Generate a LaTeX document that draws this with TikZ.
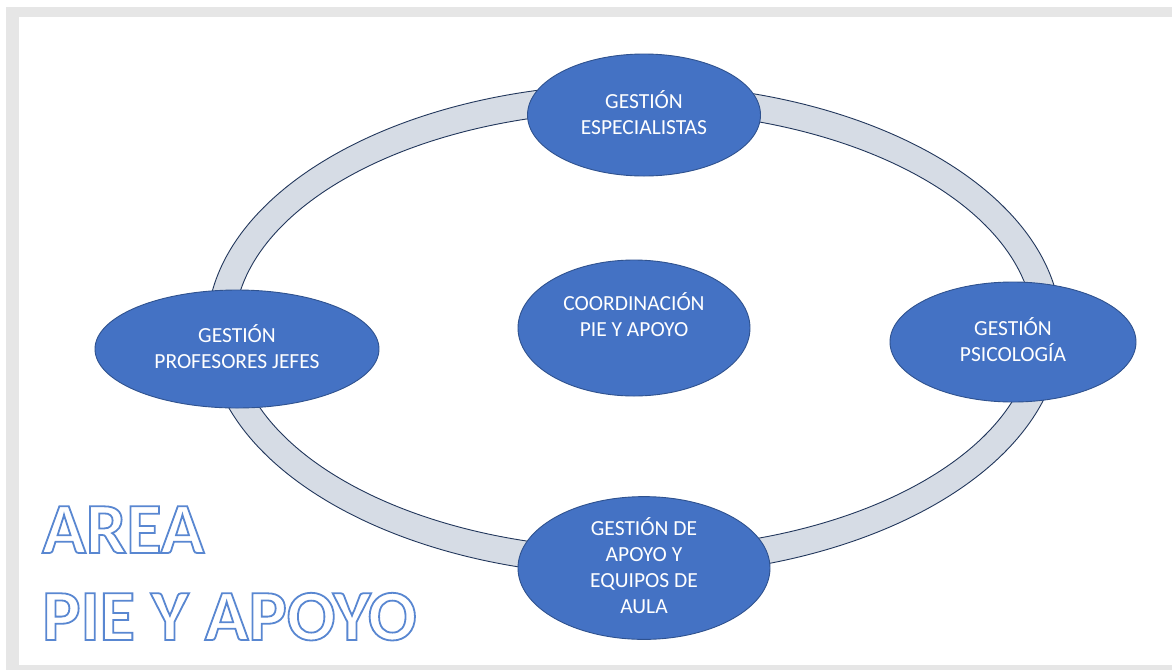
\documentclass[tikz,border=0pt]{standalone}
\usepackage{fontspec}
\setmainfont{Carlito}
\usetikzlibrary{shapes.geometric}
\definecolor{nodeblue}{HTML}{4472C4}
\definecolor{nodeedge}{HTML}{2F528F}
\definecolor{ringfill}{HTML}{D6DCE5}
\definecolor{ringedge}{HTML}{22375C}
\definecolor{framegray}{HTML}{E6E6E6}
\newcommand{\outlinedtext}[1]{\special{pdf:literal direct 2 Tr 1.8 w 0.35 0.53 0.82 RG}#1\special{pdf:literal direct 0 Tr}}
\begin{document}
\begin{tikzpicture}[x=1pt,y=-1pt,
  blob/.style={ellipse, draw=nodeedge, line width=0.9pt, fill=nodeblue, inner sep=0pt,
    text=white, font=\fontsize{21.5}{26}\selectfont, align=center, text depth=5pt},
  label text/.style={text=white, font=\fontsize{21.5}{26}\selectfont, align=center, inner sep=0pt},
  big/.style={anchor=base west, text=white, font=\bfseries\fontsize{72}{72}\selectfont, inner sep=0pt}]
\useasboundingbox (0,0) rectangle (1172,670);
\fill[white] (0,0) rectangle (1172,670);
\fill[framegray] (6,7) rectangle (1172,670);
\fill[white] (19,17) rectangle (1172,665);
% ring
\draw[ringedge, fill=ringfill, even odd rule, line width=0.9pt]
  (634,330) ellipse [x radius=427pt, y radius=246pt]
  (634,330) ellipse [x radius=400pt, y radius=219pt];
% nodes
\node[blob, minimum width=233pt, minimum height=122pt] (esp) at (644,115) {GESTIÓN\\ESPECIALISTAS};
\node[blob, minimum width=284pt, minimum height=118pt] (prof) at (237,349) {GESTIÓN\\PROFESORES JEFES};
\node[blob, minimum width=246pt, minimum height=120pt] (psi) at (1013,342) {GESTIÓN\\PSICOLOGÍA};
\node[blob, minimum width=232pt, minimum height=136pt] (coord) at (634,328) {};
\node[label text] (coordtxt) at (634,315) {COORDINACIÓN\\PIE Y APOYO};
\node[blob, minimum width=252pt, minimum height=134pt] (aula) at (644,568) {GESTIÓN DE\\APOYO Y\\EQUIPOS DE\\AULA};
% title
\node[big] (t1) at (42,553) {\outlinedtext{AREA}};
\node[big] (t2) at (42,640) {\outlinedtext{PIE Y APOYO}};
\end{tikzpicture}
\end{document}
